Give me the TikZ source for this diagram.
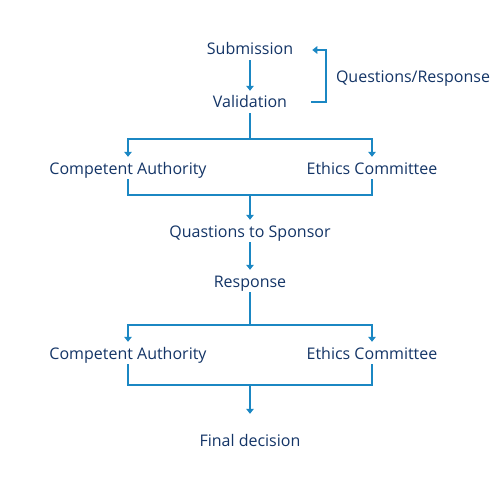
\documentclass[tikz,border=0pt]{standalone}
\usepackage{fontspec}
\setmainfont{Open Sans}
\usetikzlibrary{arrows.meta}
\definecolor{navytext}{HTML}{133466}
\definecolor{flowblue}{HTML}{1B87C3}
\tikzset{
  lbl/.style={text=navytext, font=\fontsize{16}{19}\selectfont, inner sep=4pt, text height=13pt, text depth=1pt},
  flow/.style={draw=flowblue, line width=1.8pt},
  flowarr/.style={flow, -{Triangle[width=7.5pt,length=5pt]}}
}
\begin{document}
\begin{tikzpicture}[x=1pt,y=-1pt]
		\useasboundingbox (0,0) rectangle (500,500);

		\node[lbl] (sub) at (250,49) {Submission};
		\node[lbl] (val) at (250,102) {Validation};
		\node[lbl] (qr) at (413,77) {Questions/Response};
		\node[lbl] (ca1) at (128,168) {Competent Authority};
		\node[lbl] (ec1) at (372,168) {Ethics Committee};
		\node[lbl] (qs) at (250,231) {Quastions to Sponsor};
		\node[lbl] (resp) at (250,281) {Response};
		\node[lbl] (ca2) at (128,353) {Competent Authority};
		\node[lbl] (ec2) at (372,353) {Ethics Committee};
		\node[lbl] (fin) at (250,440) {Final decision};

		\draw[flowarr] (sub) -- (val);
		\draw[flowarr] ([xshift=20pt]val.east) -- ++(15,0) |- ([xshift=15pt,yshift=-1pt]sub.east);

		\draw[flow] (val.south) -- ++(0,26) coordinate (split1);
		\draw[flowarr] (split1) -| (ca1.north);
		\draw[flowarr] (split1) -| (ec1.north);
		\draw[flow] (ca1.south) |- ++(122,16) coordinate (join1) -| (ec1.south);
		\draw[flowarr] (join1) -- (qs.north);

		\draw[flowarr] (qs) -- (resp);

		\draw[flow] (resp.south) -- ++(0,33) coordinate (split2);
		\draw[flowarr] (split2) -| (ca2.north);
		\draw[flowarr] (split2) -| (ec2.north);
		\draw[flow] (ca2.south) |- ++(122,21) coordinate (join2) -| (ec2.south);
		\draw[flowarr, shorten >=15pt] (join2) -- (fin.north);
\end{tikzpicture}
\end{document}
